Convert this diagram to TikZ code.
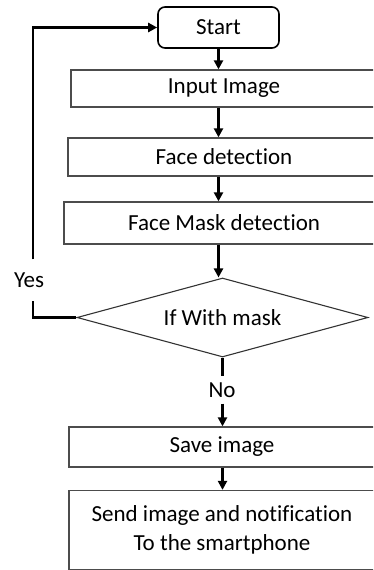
\documentclass[tikz,border=0pt]{standalone}
\usepackage{fontspec}
\setmainfont{Carlito}[Ligatures=NoCommon]
\usetikzlibrary{arrows.meta,shapes.geometric}
\begin{document}
\begin{tikzpicture}[x=1pt,y=-1pt,
  every node/.style={font=\fontsize{23}{29}\selectfont},
  procbox/.style={draw=black!70,line width=1.3pt,rectangle,inner sep=0pt},
  startbox/.style={draw=black,line width=1.6pt,rounded corners=7pt,inner sep=0pt,minimum width=121pt,minimum height=41pt},
  decbox/.style={draw=black!80,line width=1.1pt,diamond,aspect=3.7,inner sep=0pt,minimum width=291pt,minimum height=79pt},
  conn/.style={line width=2.4pt,black},
  arr/.style={conn,-{Triangle[length=9pt,width=9pt]}}]
\useasboundingbox (0,0) rectangle (373,570);
\clip (0,0) rectangle (373,570);
\node[startbox] (start) at (218.5,27.5) {Start};
\node[procbox,minimum width=306pt,minimum height=37pt] (input) at (224,88.5) {Input Image};
\node[procbox,minimum width=312pt,minimum height=38pt] (face) at (224,157) {Face detection};
\node[procbox,minimum width=320pt,minimum height=42pt] (mask) at (224,223) {Face Mask detection};
\node[decbox] (dec) at (222.5,317.5) {If With mask};
\node[inner sep=0pt,inner ysep=6pt] (no) at (222,390) {No};
\node[procbox,minimum width=306pt,minimum height=40pt] (save) at (222,447) {Save image};
\node[procbox,minimum width=306pt,minimum height=79pt,align=center] (send) at (222,530) {Send image and notification\\To the smartphone};
\node[inner sep=0pt,inner ysep=13pt] (yes) at (29,280) {Yes};
\draw[arr] (start.south) -- (start.south |- input.north);
\draw[arr] (start.south |- input.south) -- (start.south |- face.north);
\draw[arr] (start.south |- face.south) -- (start.south |- mask.north);
\draw[arr] (start.south |- mask.south) -- (start.south |- dec.north);
\draw[conn] (dec.south) -- (dec.south |- no.north);
\draw[arr] (dec.south |- no.south) -- (dec.south |- save.north);
\draw[arr] (dec.south |- save.south) -- (dec.south |- send.north);
\draw[conn] (dec.west) -| ([xshift=4pt]yes.south);
\draw[arr] ([xshift=4pt]yes.north) |- (start.west);
\end{tikzpicture}
\end{document}
